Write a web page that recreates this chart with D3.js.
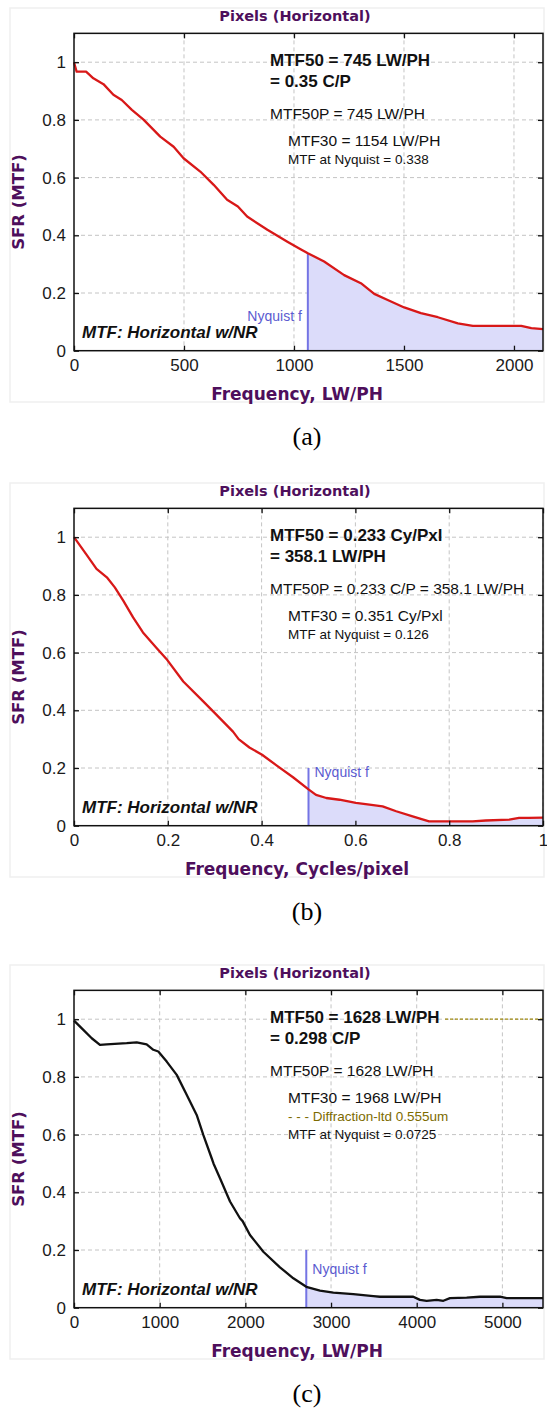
<!DOCTYPE html>
<html>
<head>
<meta charset="utf-8">
<script src="https://cdn.jsdelivr.net/npm/d3@7"></script>
<style>
body { margin: 0; background: #fff; }
svg { display: block; }
text { font-family: "Liberation Sans", Arial, sans-serif; }
</style>
</head>
<body>
<svg id="chart" width="547" height="1411"></svg>
<script>
// ---- data ----
const yTicks = [0, 0.2, 0.4, 0.6, 0.8, 1];

// (a) LW/PH
const freqA = [0, 12, 55, 88, 134, 179, 217, 263, 316, 392, 453, 498, 574, 635, 696, 745, 787, 879, 970, 1030, 1063,
    1137, 1228, 1304, 1365, 1426, 1501, 1577, 1654, 1745, 1813, 1988, 2033, 2079, 2132];
const mtfA = [1.0, 0.967, 0.967, 0.944, 0.924, 0.887, 0.869, 0.835, 0.801, 0.742, 0.707, 0.667, 0.621, 0.575, 0.523, 0.5, 0.465, 0.419, 0.378, 0.352, 0.338,
    0.309, 0.262, 0.234, 0.197, 0.176, 0.150, 0.130, 0.116, 0.095, 0.086, 0.086, 0.086, 0.078, 0.075];
const xDomainA = [0, 2132];
const xTicksA = [0, 500, 1000, 1500, 2000];
const nyquistA = 1063;
const textA = ["MTF50 = 745 LW/PH", "= 0.35 C/P", "MTF50P = 745 LW/PH", "MTF30 = 1154 LW/PH", "MTF at Nyquist = 0.338"];

// (b) cycles/pixel
const freqB = [0, 0.027, 0.048, 0.070, 0.087, 0.105, 0.126, 0.147, 0.176, 0.199, 0.233, 0.275, 0.304, 0.339, 0.351,
    0.374, 0.401, 0.431, 0.467, 0.5, 0.516, 0.538, 0.566, 0.601, 0.630, 0.658, 0.687, 0.722, 0.757, 0.807, 0.850, 0.878, 0.928, 0.949, 0.970, 1.0];
const mtfB = [1.0, 0.939, 0.890, 0.861, 0.826, 0.780, 0.722, 0.670, 0.616, 0.574, 0.5, 0.432, 0.384, 0.326, 0.3,
    0.271, 0.246, 0.210, 0.168, 0.126, 0.107, 0.096, 0.090, 0.079, 0.073, 0.067, 0.050, 0.032, 0.015, 0.015, 0.015, 0.018, 0.021, 0.027, 0.027, 0.028];
const xDomainB = [0, 1];
const xTicksB = [0, 0.2, 0.4, 0.6, 0.8, 1];
const nyquistB = 0.5;
const textB = ["MTF50 = 0.233 Cy/Pxl", "= 358.1 LW/PH", "MTF50P = 0.233 C/P = 358.1 LW/PH", "MTF30 = 0.351 Cy/Pxl", "MTF at Nyquist = 0.126"];

// (c) LW/PH
const freqC = [0, 109, 207, 303, 381, 615, 732, 848, 926, 984, 1082, 1199, 1315, 1432, 1509, 1607, 1628, 1704, 1821, 1937, 1968,
    2054, 2210, 2404, 2560, 2711, 2871, 3027, 3260, 3493, 3571, 3766, 3960, 4038, 4116, 4233, 4311, 4388, 4583, 4739, 4972, 5050, 5322, 5474];
const mtfC = [0.995, 0.963, 0.934, 0.911, 0.913, 0.917, 0.920, 0.913, 0.894, 0.888, 0.853, 0.807, 0.738, 0.668, 0.599, 0.518, 0.5, 0.449, 0.368, 0.310, 0.3,
    0.252, 0.194, 0.140, 0.102, 0.0725, 0.059, 0.052, 0.047, 0.040, 0.038, 0.038, 0.038, 0.027, 0.024, 0.027, 0.024, 0.033, 0.035, 0.038, 0.038, 0.033, 0.033, 0.033];
const xDomainC = [0, 5474];
const xTicksC = [0, 1000, 2000, 3000, 4000, 5000];
const nyquistC = 2711;
const diffractionC = [[4330, 1], [5474, 1]];
const textC = ["MTF50 = 1628 LW/PH", "= 0.298 C/P", "MTF50P = 1628 LW/PH", "MTF30 = 1968 LW/PH", "- - - Diffraction-ltd  0.555um", "MTF at Nyquist = 0.0725"];

const panels = [
    { dy: 0, freq: freqA, mtf: mtfA, xDomain: xDomainA, xTicks: xTicksA, nyq: nyquistA, text: textA,
      xLabel: "Frequency, LW/PH", caption: "(a)", color: "#d81818", nyqLabel: { side: "left", v: 0.12 } },
    { dy: 475, freq: freqB, mtf: mtfB, xDomain: xDomainB, xTicks: xTicksB, nyq: nyquistB, text: textB,
      xLabel: "Frequency, Cycles/pixel", caption: "(b)", color: "#d81818", nyqLabel: { side: "right", v: 0.185 } },
    { dy: 957, freq: freqC, mtf: mtfC, xDomain: xDomainC, xTicks: xTicksC, nyq: nyquistC, text: textC,
      xLabel: "Frequency, LW/PH", caption: "(c)", color: "#111", nyqLabel: { side: "right", v: 0.135 }, diffraction: diffractionC }
];

const svg = d3.select("#chart");
const purple = "#4e0f5c";
const plot = { left: 74, right: 543, bottom: 350.7 };
const yscale = d3.scaleLinear().domain([0, 1.1]).range([plot.bottom, plot.bottom - 1.1 * 288.5]);

panels.forEach(p => drawPanel(p));

function drawPanel(p) {
    const g = svg.append("g").attr("transform", `translate(0,${p.dy})`);
    const data = p.freq.map((f, i) => ({ f: f, v: p.mtf[i] }));
    const xscale = d3.scaleLinear().domain(p.xDomain).range([plot.left, plot.right]);
    const top = yscale(1.1);

    // faint figure frame
    g.append("rect").attr("x", 10).attr("y", 8).attr("width", 534).attr("height", 394)
        .attr("fill", "none").attr("stroke", "#efefef").attr("stroke-width", 1.5);

    g.append("text").attr("x", 295).attr("y", 16).attr("dy", "0.36em")
        .attr("text-anchor", "middle").style("font-family", "'DejaVu Sans', sans-serif")
        .style("font-weight", "bold").style("font-size", "14.5px").attr("fill", purple)
        .text("Pixels (Horizontal)");

    // grid
    const grid = g.append("g").attr("stroke", "#c4c4c4").attr("stroke-dasharray", "4,3").attr("stroke-width", 1);
    grid.selectAll(".gx").data(p.xTicks.filter(d => d > p.xDomain[0]))
        .enter().append("line")
        .attr("x1", d => xscale(d)).attr("x2", d => xscale(d)).attr("y1", top).attr("y2", plot.bottom);
    grid.selectAll(".gy").data(yTicks.filter(d => d > 0))
        .enter().append("line")
        .attr("x1", plot.left).attr("x2", plot.right).attr("y1", d => yscale(d)).attr("y2", d => yscale(d));

    // shaded region beyond Nyquist
    const beyond = data.filter(d => d.f >= p.nyq);
    g.append("path").datum(beyond)
        .attr("fill", "#dcdcfa")
        .attr("d", d3.area().x(d => xscale(d.f)).y0(yscale(0)).y1(d => yscale(d.v)));

    // Nyquist marker
    const atNyq = data.find(d => d.f === p.nyq).v;
    const nyqTop = Math.max(atNyq, 0.2);
    g.append("line").attr("x1", xscale(p.nyq)).attr("x2", xscale(p.nyq))
        .attr("y1", yscale(0)).attr("y2", yscale(nyqTop))
        .attr("stroke", "#7474e4").attr("stroke-width", 2);
    const left = p.nyqLabel.side === "left";
    g.append("text").attr("x", xscale(p.nyq) + (left ? -6 : 6)).attr("y", yscale(p.nyqLabel.v)).attr("dy", "0.36em")
        .attr("text-anchor", left ? "end" : "start")
        .style("font-size", "14px").attr("fill", "#5b5bd0").text("Nyquist f");

    // diffraction-limited reference
    if (p.diffraction) {
        g.append("path").datum(p.diffraction)
            .attr("fill", "none").attr("stroke", "#a08a10").attr("stroke-width", 1.2).attr("stroke-dasharray", "3,2")
            .attr("d", d3.line().x(d => xscale(d[0])).y(d => yscale(d[1])));
    }

    // curve
    g.append("path").datum(data)
        .attr("fill", "none").attr("stroke", p.color).attr("stroke-width", 2.3).attr("stroke-linejoin", "round")
        .attr("d", d3.line().x(d => xscale(d.f)).y(d => yscale(d.v)));

    // axes, ticks inside
    const fmt = d => String(d);
    g.append("g").attr("transform", `translate(0,${plot.bottom})`)
        .call(d3.axisBottom(xscale).tickValues(p.xTicks).tickFormat(fmt).tickSizeInner(-5).tickSizeOuter(0).tickPadding(8))
        .call(ax => styleAxis(ax));
    g.append("g").attr("transform", `translate(${plot.left},0)`)
        .call(d3.axisLeft(yscale).tickValues(yTicks).tickFormat(fmt).tickSizeInner(-5).tickSizeOuter(0).tickPadding(8))
        .call(ax => styleAxis(ax));
    g.append("g").attr("transform", `translate(0,${top})`)
        .call(d3.axisTop(xscale).tickValues(p.xTicks).tickFormat("").tickSizeInner(-5).tickSizeOuter(0))
        .call(ax => styleAxis(ax));
    g.append("g").attr("transform", `translate(${plot.right},0)`)
        .call(d3.axisRight(yscale).tickValues(yTicks).tickFormat("").tickSizeInner(-5).tickSizeOuter(0))
        .call(ax => styleAxis(ax));
    g.append("rect").attr("x", plot.left).attr("y", top)
        .attr("width", plot.right - plot.left).attr("height", plot.bottom - top)
        .attr("fill", "none").attr("stroke", "#111").attr("stroke-width", 1.5);

    // annotations
    const ann = [
        { x: 270, y: 60, size: 17, bold: true },
        { x: 270, y: 81, size: 17, bold: true },
        { x: 270, y: 113, size: 15.5 },
        { x: 288, y: 140, size: 15.5 },
        { x: 288, y: 159, size: 13.5 },
        { x: 288, y: 177, size: 13.5 }
    ];
    p.text.forEach((t, i) => {
        const a = ann[i];
        g.append("text").attr("x", a.x).attr("y", a.y).attr("dy", "0.36em")
            .style("font-size", a.size + "px").style("font-weight", a.bold ? "bold" : "normal")
            .attr("fill", t.startsWith("- - -") ? "#7d6b00" : "#111").text(t);
    });

    g.append("text").attr("x", 82).attr("y", 332).attr("dy", "0.36em")
        .style("font-size", "17px").style("font-weight", "bold").style("font-style", "italic")
        .attr("fill", "#111").text("MTF: Horizontal w/NR");

    // axis titles
    g.append("text").attr("x", 297).attr("y", 394).attr("dy", "0.36em").attr("text-anchor", "middle")
        .style("font-family", "'DejaVu Sans', sans-serif").style("font-weight", "bold").style("font-size", "17px")
        .attr("fill", purple).text(p.xLabel);
    g.append("text").attr("transform", "translate(18,202) rotate(-90)").attr("dy", "0.36em").attr("text-anchor", "middle")
        .style("font-family", "'DejaVu Sans', sans-serif").style("font-weight", "bold").style("font-size", "16.5px")
        .attr("fill", purple).text("SFR (MTF)");

    g.append("text").attr("x", 307).attr("y", 436).attr("dy", "0.35em").attr("text-anchor", "middle")
        .style("font-family", "'Liberation Serif', 'Times New Roman', serif").style("font-size", "26px")
        .attr("fill", "#000").text(p.caption);
}

function styleAxis(ax) {
    ax.select(".domain").remove();
    ax.selectAll(".tick line").attr("stroke", "#111").attr("stroke-width", 1.3);
    ax.selectAll(".tick text").attr("fill", "#1a1a1a").style("font-size", "17px")
        .style("font-family", "'Liberation Sans', Arial, sans-serif");
}
</script>
</body>
</html>
